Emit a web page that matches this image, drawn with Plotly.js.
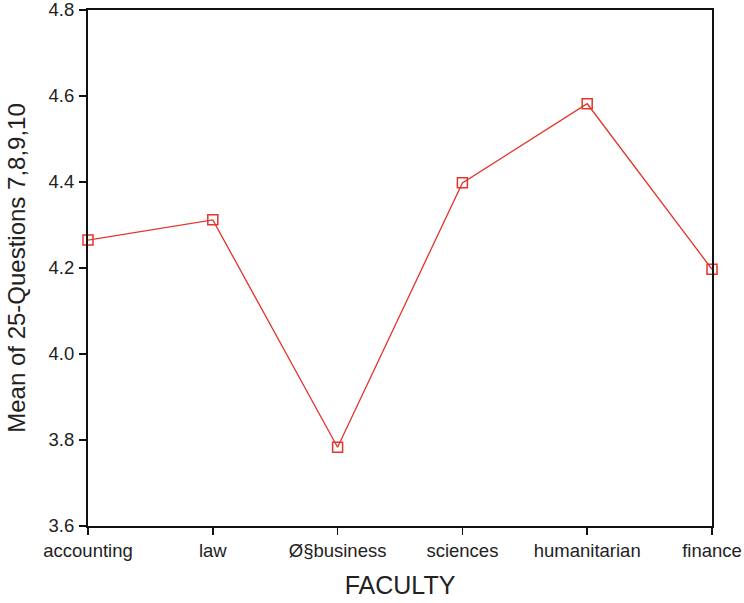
<!DOCTYPE html>
<html>
<head>
<meta charset="utf-8">
<script src="https://cdn.plot.ly/plotly-3.0.1.min.js"></script>
<style>html,body{margin:0;padding:0;background:#fff;}#chart{width:744px;height:603px;}</style>
</head>
<body>
<div id="chart"></div>
<script>
const categories = ["accounting", "law", "Ø§business", "sciences", "humanitarian", "finance"];
const meanValues = [4.265, 4.312, 3.783, 4.398, 4.582, 4.197];
const yTicks = [3.6, 3.8, 4.0, 4.2, 4.4, 4.6, 4.8];

const trace = {
  x: categories,
  y: meanValues,
  type: "scatter",
  mode: "lines+markers",
  line: {color: "#e3342b", width: 1.3},
  marker: {symbol: "square-open", size: 10, color: "#e3342b", line: {width: 1.5, color: "#e3342b"}},
  cliponaxis: false,
  hoverinfo: "x+y"
};

const layout = {
  width: 744, height: 603,
  margin: {l: 88, r: 32, t: 10, b: 77},
  paper_bgcolor: "#fff", plot_bgcolor: "#fff",
  showlegend: false,
  font: {family: "Liberation Sans, Arial, sans-serif", color: "#222"},
  xaxis: {
    type: "category",
    range: [0, 5],
    showgrid: false, zeroline: false,
    showline: true, linecolor: "#111", linewidth: 2, mirror: true,
    ticks: "outside", ticklen: 7, tickwidth: 1.5, tickcolor: "#111",
    ticklabelstandoff: 0,
    ticklabeloverflow: "allow",
    tickfont: {size: 18.5, color: "#222"},
    title: {text: "FACULTY", font: {size: 25, color: "#222"}, standoff: 16}
  },
  yaxis: {
    range: [3.6, 4.8],
    tickvals: yTicks,
    ticktext: yTicks.map(v => v.toFixed(1)),
    showgrid: false, zeroline: false,
    showline: true, linecolor: "#111", linewidth: 2, mirror: true,
    ticks: "outside", ticklen: 7, tickwidth: 1.5, tickcolor: "#111",
    ticklabelstandoff: 1,
    ticklabeloverflow: "allow",
    tickfont: {size: 18.5, color: "#222"},
    title: {text: "Mean of 25-Questions 7,8,9,10", font: {size: 24, color: "#222"}, standoff: 16}
  }
};

Plotly.newPlot("chart", [trace], layout, {displayModeBar: false, staticPlot: true});
</script>
</body>
</html>
